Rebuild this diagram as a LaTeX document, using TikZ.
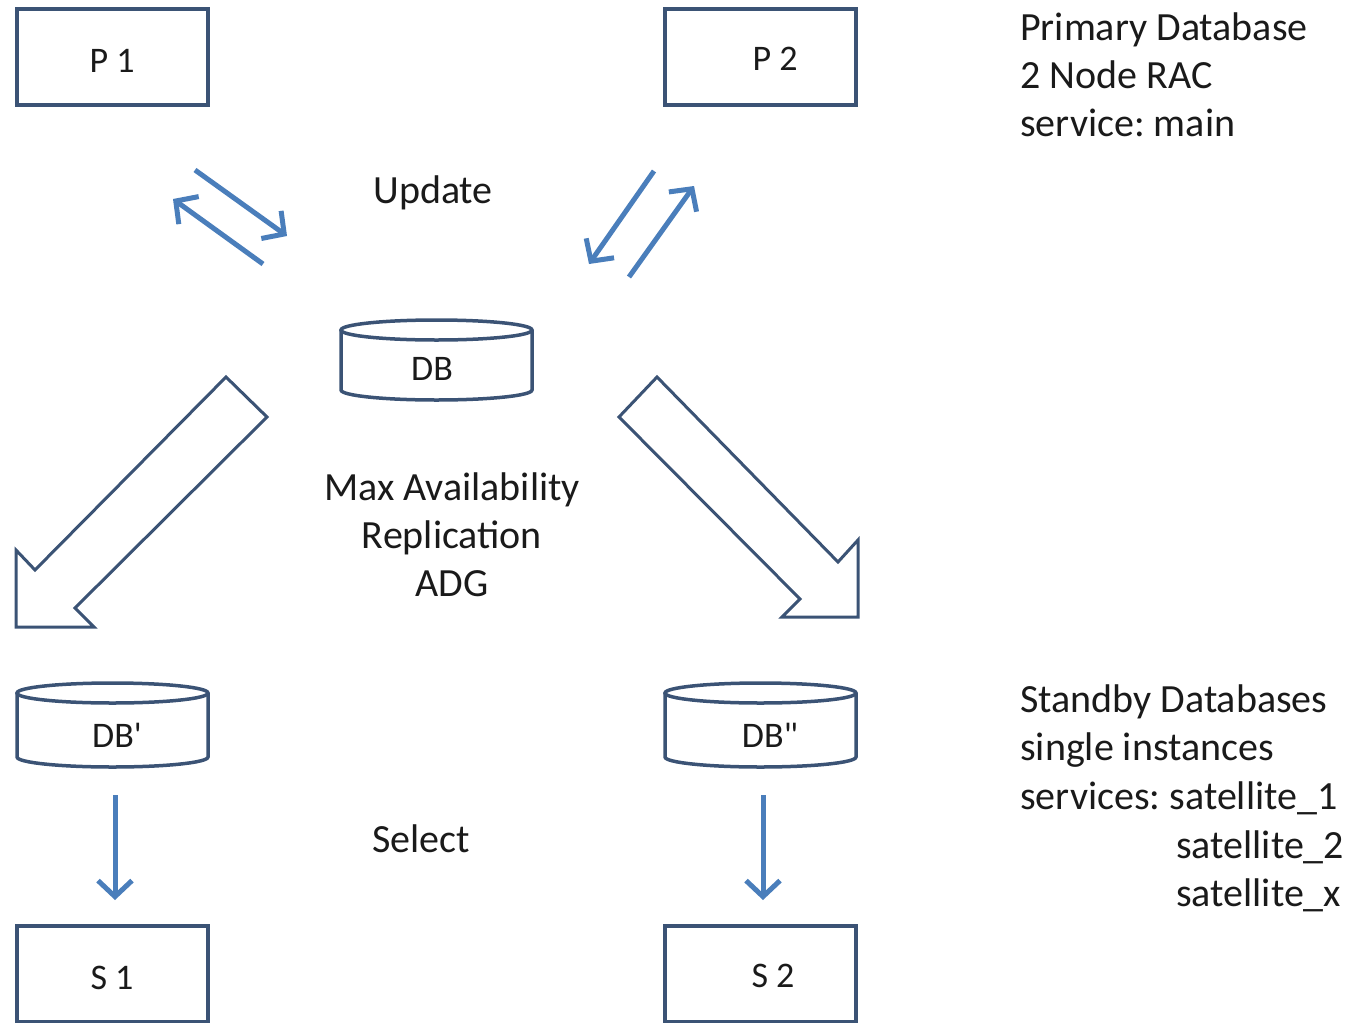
\documentclass[tikz,border=0pt]{standalone}
\usepackage{fontspec}
\setmainfont{Carlito}
\newfontfamily\primefont{Carlito}
\usetikzlibrary{arrows.meta}
\definecolor{outline}{HTML}{3B5375}
\definecolor{flow}{HTML}{4A7EBB}
\definecolor{ink}{HTML}{1A1A1A}
\frenchspacing

% cylinder: #1 name, #2 left x, #3 right x, #4 top-ellipse centre y, #5 bottom-ellipse centre y
\newcommand{\dbcyl}[5]{%
  \draw[shapeline] (#2,-#4) -- (#2,-#5)
    arc[start angle=180, end angle=360, x radius={(#3-#2)/2}, y radius=10] -- (#3,-#4);
  \draw[shapeline] ({(#2+#3)/2},-#4) ellipse[x radius={(#3-#2)/2}, y radius=10];
  \coordinate (#1) at ({(#2+#3)/2},{-(#4+#5)/2});
}

\begin{document}
\begin{tikzpicture}[x=1pt,y=1pt,
  shapeline/.style={draw=outline, line width=3.5pt, line join=miter},
  boxnode/.style={shapeline, rectangle, minimum width=191pt, minimum height=96pt, inner sep=0pt},
  boxlabel/.style={text=ink, font=\fontsize{36}{43}\selectfont, anchor=base, inner sep=0pt},
  note/.style={text=ink, font=\fontsize{40}{48}\selectfont, anchor=base, inner sep=0pt},
  flowarrow/.style={draw=flow, line width=5pt, -{Straight Barb[length=16pt, width=34pt]}},
  bigarrow/.style={draw=outline, line width=3pt, line join=miter, fill=white}]
\useasboundingbox (0,0) rectangle (1358,-1023);

% primary and satellite hosts
\node[boxnode] (P1) at (112.5,-57) {};
\node[boxnode] (P2) at (760.5,-57) {};
\node[boxnode] (S1) at (112.5,-974) {};
\node[boxnode] (S2) at (760.5,-974) {};
\node[boxlabel] (P1t) at (112,-72) {P 1};
\node[boxlabel] (P2t) at (775,-70) {P 2};
\node[boxlabel] (S1t) at (112,-989) {S 1};
\node[boxlabel] (S2t) at (773,-987) {S 2};

% databases
\dbcyl{DB}{341}{532}{330}{390}
\dbcyl{DBa}{17}{208}{693}{757}
\dbcyl{DBb}{665}{856}{693}{757}
\node[boxlabel] (DBt) at (432,-380) {DB};
\node[boxlabel] (DBat) at (117,-747) {\primefont DB'};
\node[boxlabel] (DBbt) at (770,-747) {\primefont DB"};

% replication arrows
\path[bigarrow] (226,-377) -- (267,-417) -- (75,-608) -- (94,-627) -- (16,-627)
  -- (16,-550) -- (35,-570) -- cycle;
\path[bigarrow] (657,-377) -- (619,-417) -- (800,-599) -- (782,-617) -- (858,-617)
  -- (858,-540) -- (838,-562) -- cycle;

% update / select traffic
\coordinate (u1a) at (195,-170); \coordinate (u1b) at (287,-236);
\coordinate (u2a) at (263,-264); \coordinate (u2b) at (173,-199);
\coordinate (u3a) at (654,-171); \coordinate (u3b) at (589,-264);
\coordinate (u4a) at (629,-277); \coordinate (u4b) at (694,-186);
\coordinate (s1a) at (115,-795); \coordinate (s1b) at (115,-900);
\coordinate (s2a) at (763,-795); \coordinate (s2b) at (763,-900);
\draw[flowarrow] (u1a) -- (u1b);
\draw[flowarrow] (u2a) -- (u2b);
\draw[flowarrow] (u3a) -- (u3b);
\draw[flowarrow] (u4a) -- (u4b);
\draw[flowarrow] (s1a) -- (s1b);
\draw[flowarrow] (s2a) -- (s2b);

% captions
\node[note] (upd) at (433,-203) {Update};
\node[note] (mx1) at (452,-500) {Max Availability};
\node[note] (mx2) at (452,-548) {Replication};
\node[note] (mx3) at (452,-596) {ADG};
\node[note] (sel) at (421,-852) {Select};

\node[note, anchor=base west] (pr1) at (1020,-40) {Primary Database};
\node[note, anchor=base west] (pr2) at (1020,-88) {2 Node RAC};
\node[note, anchor=base west] (pr3) at (1020,-136) {service: main};

\node[note, anchor=base west] (sb1) at (1020,-712) {Standby Databases};
\node[note, anchor=base west] (sb2) at (1020,-760) {single instances};
\node[note, anchor=base west] (sb3) at (1020,-809) {services: satellite\_1};
\node[note, anchor=base west] (sb4) at (1176,-858) {satellite\_2};
\node[note, anchor=base west] (sb5) at (1176,-906) {satellite\_x};
\end{tikzpicture}
\end{document}
